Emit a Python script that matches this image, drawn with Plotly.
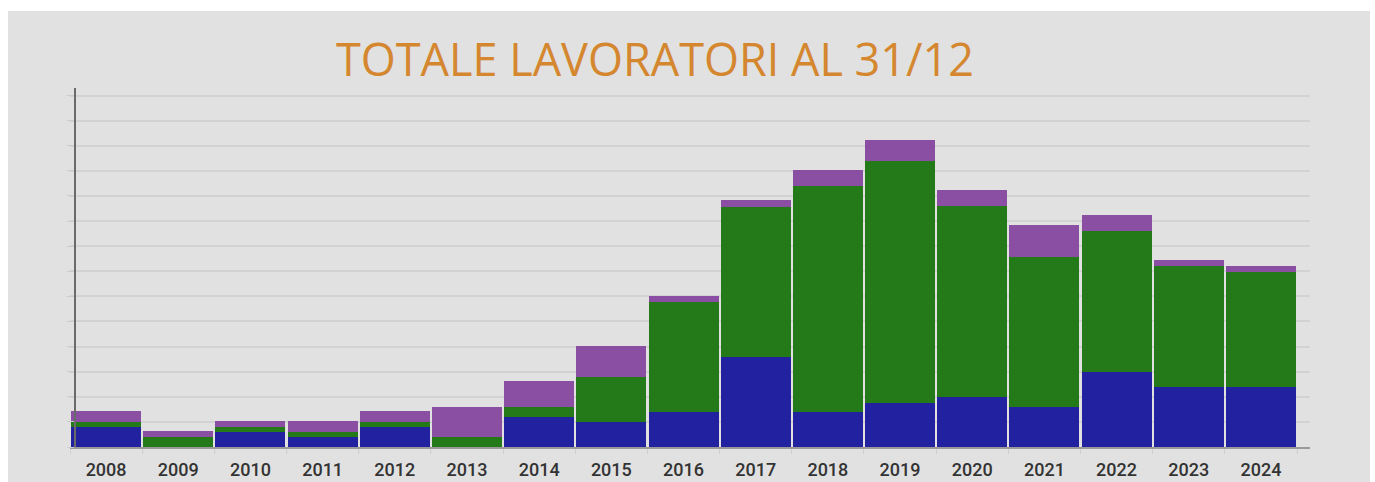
import plotly.graph_objects as go

years = ["2008", "2009", "2010", "2011", "2012", "2013", "2014", "2015", "2016",
         "2017", "2018", "2019", "2020", "2021", "2022", "2023", "2024"]
blue_vals = [7.8, 0.0, 5.8, 3.8, 7.8, 0.0, 11.9, 9.8, 13.8,
             35.8, 13.8, 17.7, 20.0, 15.8, 30.0, 24.0, 24.0]
green_vals = [2.1, 3.8, 2.0, 2.0, 2.1, 3.8, 3.9, 18.0, 44.0,
              59.9, 90.3, 96.3, 75.9, 60.0, 55.9, 48.1, 45.7]
purple_vals = [4.5, 2.4, 2.4, 4.4, 4.3, 12.3, 10.3, 12.5, 2.5,
               2.7, 6.2, 8.2, 6.3, 12.5, 6.4, 2.3, 2.5]
title_text = "TOTALE LAVORATORI AL 31/12"

W, H = 1375, 482
L, R, T, B = 70, 65, 88, 35
pw, ph = W - L - R, H - T - B

fig = go.Figure()
for vals, col in [(blue_vals, "#2222a0"), (green_vals, "#247a19"), (purple_vals, "#8a4ea2")]:
    fig.add_trace(go.Bar(x=years, y=vals, marker=dict(color=col, line=dict(width=0)),
                         showlegend=False))

# grey card behind the chart, leaving a thin white frame like the reference
fig.add_shape(type="rect", xref="paper", yref="paper", layer="below",
              x0=(8 - L) / pw, x1=(1370 - L) / pw,
              y0=-B / ph, y1=(H - B - 11) / ph,
              fillcolor="#e1e1e1", line=dict(width=0))

fig.update_layout(
    width=W, height=H,
    barmode="stack", bargap=0.03,
    paper_bgcolor="#ffffff", plot_bgcolor="rgba(0,0,0,0)",
    margin=dict(l=L, r=R, t=T, b=B, autoexpand=False),
    title=dict(text=title_text, x=655 / W, xref="container", xanchor="center",
               y=1 - 60 / H, yref="container", yanchor="middle",
               font=dict(family="Open Sans", size=45, color="#d4872f")),
    xaxis=dict(type="category", range=[-0.5, 16.68], showgrid=False, automargin=False,
               showline=True, linecolor="#9a9a9a", linewidth=2,
               ticks="outside", tickson="boundaries", ticklen=5, tickcolor="#cfcfcf",
               ticklabelstandoff=5,
               tickfont=dict(family="Roboto", size=18, color="#333333", weight=500)),
    yaxis=dict(range=[0, 143], dtick=10, showgrid=True, gridcolor="#d2d2d2", gridwidth=1.5,
               automargin=False, anchor="free", position=5 / pw,
               showline=True, linecolor="#6a6a6a", linewidth=2,
               ticks="outside", ticklen=7, tickcolor="#cccccc",
               showticklabels=False, zeroline=False),
)

fig.write_html("out.html", config={"displayModeBar": False},
               post_script="document.body.style.margin='0';document.body.style.overflow='hidden';")
